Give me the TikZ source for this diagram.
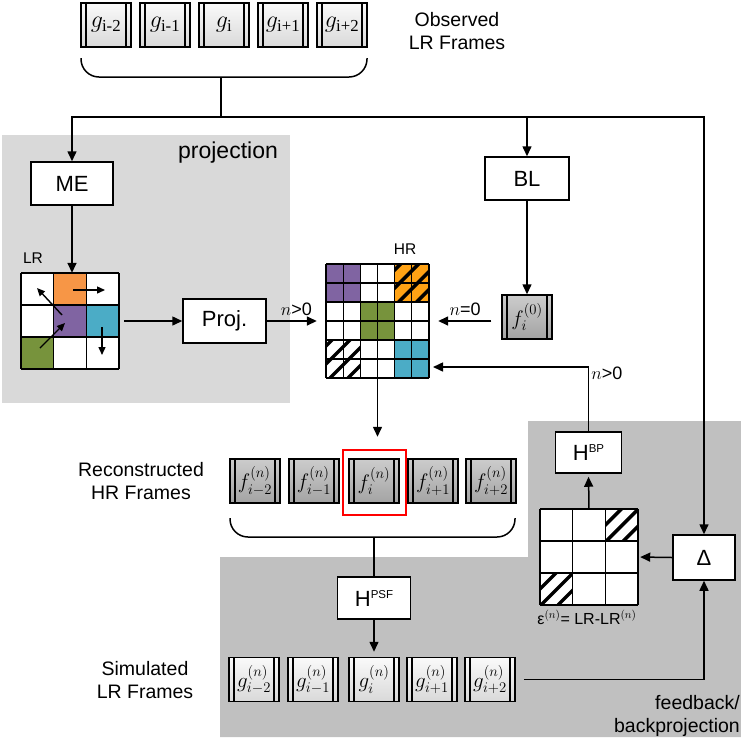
\RequirePackage{fix-cm}
\documentclass[tikz,border=0pt]{standalone}
\usepackage{amsmath}
\usepackage{fontspec}
\setmainfont{Liberation Sans}
\newfontfamily\seriffont{Liberation Serif}
\usetikzlibrary{arrows.meta, positioning, calc}
\definecolor{lrorange}{RGB}{247, 150, 70}
\definecolor{hrorange}{RGB}{255, 162, 20}
\definecolor{cellpurple}{RGB}{128, 100, 162}
\definecolor{cellcyan}{RGB}{75, 172, 198}
\definecolor{cellgreen}{RGB}{119, 147, 60}
\definecolor{projgray}{RGB}{217, 217, 217}
\definecolor{fbgray}{RGB}{192, 192, 192}

% thick diagonal stripes inside a cell block
\newcommand{\hatchbox}[5]{%
  \begin{scope}
    \clip (#1,#2) rectangle (#3,#4);
    \foreach \c in {0,#5,...,150}
      \draw[line width=3.5pt] (#1-50+\c,#4) -- ++(80,-80);
  \end{scope}}

\begin{document}
\begin{tikzpicture}[x=1pt, y=-1pt,
    arr/.style={-{Triangle[length=10pt, width=9pt]}, line width=1.5pt},
    vec/.style={-{Triangle[length=8pt, width=7pt]}, line width=1.4pt},
    box/.style={draw, fill=white, line width=1.5pt, inner sep=0pt, font=\fontsize{22}{26}\selectfont},
    film/.style={draw, line width=1.5pt, minimum width=50pt, minimum height=44pt, inner sep=0pt,
      path picture={
        \draw[line width=1.2pt] ([xshift=5pt]path picture bounding box.south west) -- ([xshift=5pt]path picture bounding box.north west)
          ([xshift=-5pt]path picture bounding box.south east) -- ([xshift=-5pt]path picture bounding box.north east);}},
    lrfilm/.style={film, top color=gray!4, bottom color=gray!30},
    hrfilm/.style={film, top color=gray!40, bottom color=gray!72},
    gridline/.style={line width=1.2pt},
    labeltext/.style={align=center, font=\fontsize{19.5}{23}\selectfont},
    smalltext/.style={font=\fontsize{15.5}{18}\selectfont},
    cond/.style={font=\fontsize{18}{20}\selectfont, inner sep=2pt}]
  \useasboundingbox (0,0) rectangle (741,737);

  % Shaded areas
  \fill[projgray] (2,135) rectangle (290,403);
  \fill[fbgray] (528,421) -- (741,421) -- (741,737) -- (220,737) -- (220,557) -- (528,557) -- cycle;
  \node[font=\fontsize{23}{27}\selectfont] (projlabel) at (228,153) {projection};
  \node[labeltext, anchor=east, align=right, inner sep=1pt] (fblabel) at (741,716) {feedback/\\backprojection};

  % Observed LR frames
  \foreach \lbl [count=\k] in {i-2,i-1,i,i+1,i+2}
    \node[lrfilm, font=\fontsize{24}{26}\selectfont] (obs\k) at (47+59*\k,25) {$g_{\text{\seriffont\lbl}}$};
  \node[labeltext] (obslabel) at (457,31) {Observed\\LR Frames};
  \draw[line width=1.5pt, rounded corners=18pt] (81,58) |- (221,77) -| (367,58);
  \coordinate (obsbrace) at (221,77);
  \coordinate (split) at (221,117);

  % Boxes
  \node[box, minimum width=82pt, minimum height=43pt] (me) at (72,183.5) {ME};
  \node[box, minimum width=83pt, minimum height=44pt] (proj) at (224.5,321) {Proj.};
  \node[box, minimum width=84pt, minimum height=43pt] (bl) at (527,178.5) {BL};
  \node[box, minimum width=66pt, minimum height=41pt] (hbp) at (588.5,452.5) {H\raisebox{8pt}{\fontsize{11.5}{12}\selectfont BP}};
  \node[box, minimum width=73pt, minimum height=42pt] (hpsf) at (374,598) {H\raisebox{8pt}{\fontsize{11.5}{12}\selectfont PSF}};
  \node[box, minimum width=62pt, minimum height=45pt] (delta) at (704,557.5) {Δ};

  % LR grid with motion vectors
  \node[minimum width=98pt, minimum height=96pt, inner sep=0pt] (lr) at (70,321) {};
  \node[smalltext] (lrlabel) at (33,258) {LR};
  \fill[white] (21,273) rectangle (119,369);
  \fill[lrorange] (53.67,273) rectangle (86.33,305);
  \fill[cellpurple] (53.67,305) rectangle (86.33,337);
  \fill[cellcyan] (86.33,305) rectangle (119,337);
  \fill[cellgreen] (21,337) rectangle (53.67,369);
  \foreach \i in {0,...,3} {
    \draw[gridline] (21+98*\i/3,273) -- ++(0,96);
    \draw[gridline] (21,273+32*\i) -- ++(98,0);
  }
  \draw[vec] (73,290) -- (105,290);
  \draw[vec] (62,315) -- (37,288);
  \draw[vec] (40,348) -- (65,323);
  \draw[vec] (102,327) -- (102,355);

  % HR grid
  \node[minimum width=103pt, minimum height=114pt, inner sep=0pt] (hr) at (377.5,321) {};
  \node[smalltext] (hrlabel) at (405,249) {HR};
  \fill[cellpurple] (326,264) rectangle (360.33,302);
  \fill[hrorange] (394.67,264) rectangle (429,302);
  \fill[cellgreen] (360.33,302) rectangle (394.67,340);
  \fill[cellcyan] (394.67,340) rectangle (429,378);
  \hatchbox{394.67}{264}{429}{302}{18}
  \hatchbox{326}{340}{360.33}{378}{18}
  \foreach \i in {0,...,6} {
    \draw[gridline] (326+103*\i/6,264) -- ++(0,114);
    \draw[gridline] (326,264+19*\i) -- ++(103,0);
  }

  % Initial estimate
  \node[hrfilm, font=\fontsize{21}{24}\selectfont] (f0) at (527,317) {$f_i^{(0)}$};

  % Reconstructed HR frames
  \foreach \xc/\lbl [count=\k] in {255/i-2,314/i-1,374/i,433/i+1,491/i+2}
    \node[hrfilm, font=\fontsize{21}{24}\selectfont] (rec\k) at (\xc,481) {$f^{(n)}_{\lbl}$};
  \node[draw=red, line width=2.5pt, minimum width=63pt, minimum height=65pt, inner sep=0pt] (sel) at (374.5,482.5) {};
  \node[labeltext] (reclabel) at (141,481) {Reconstructed\\HR Frames};
  \draw[line width=1.5pt, rounded corners=18pt] (230,518) |- (374,537) -| (515,518);
  \coordinate (recbrace) at (374,537);

  % Simulated LR frames
  \foreach \xc/\lbl [count=\k] in {254/i-2,313/i-1,374/i,432/i+1,490/i+2}
    \node[lrfilm, font=\fontsize{21}{24}\selectfont] (sim\k) at (\xc,679.5) {$g^{(n)}_{\lbl}$};
  \node[labeltext] (simlabel) at (145,680) {Simulated\\LR Frames};

  % Error grid
  \node[minimum width=98pt, minimum height=96pt, inner sep=0pt] (err) at (589,557) {};
  \fill[white] (540,509) rectangle (638,605);
  \hatchbox{605.33}{509}{638}{541}{17}
  \hatchbox{540}{573}{572.67}{605}{17}
  \foreach \i in {0,...,3} {
    \draw[gridline] (540+98*\i/3,509) -- ++(0,96);
    \draw[gridline] (540,509+32*\i) -- ++(98,0);
  }
  \node[font=\fontsize{16}{18}\selectfont] (errlabel) at (587,617) {ε$^{(n)}$= LR-LR$^{(n)}$};
  \coordinate (fbin) at (433,367);

  % Arrows
  \draw[line width=1.5pt] (obsbrace) -- (split);
  \draw[arr] (split) -| (me.north);
  \draw[arr] (split) -| (delta.north);
  \draw[arr] (bl.north |- split) -- (bl.north);
  \draw[arr] (me.south) -- (me.south |- lr.north);
  \draw[arr] ([xshift=5pt]lr.east) -- (proj.west);
  \draw[arr, shorten >=9pt] (proj.east) -- node[cond, above=3pt] {$n$>0} (hr.west);
  \draw[arr] (bl.south) -- (f0.north);
  \draw[arr, shorten <=10pt, shorten >=9pt] (f0.west |- hr.east) -- node[cond, above=3pt] {$n$=0} (hr.east);
  \draw[arr, shorten >=12pt] (hr.south) -- (hr.south |- sel.north);
  \draw[line width=1.5pt] (recbrace) -- (hpsf.north);
  \draw[arr, shorten >=5pt] (hpsf.south) -- (sim3.north);
  \draw[arr, shorten <=8pt] (sim5.east) -| (delta.south);
  \draw[arr, shorten >=2pt] (delta.west) -- (err.east);
  \draw[arr, shorten >=3pt] (err.north) -- (hbp.south);
  \draw[arr] (hbp.north) |- node[cond, pos=0.45, right] {$n$>0} (fbin);
\end{tikzpicture}
\end{document}
